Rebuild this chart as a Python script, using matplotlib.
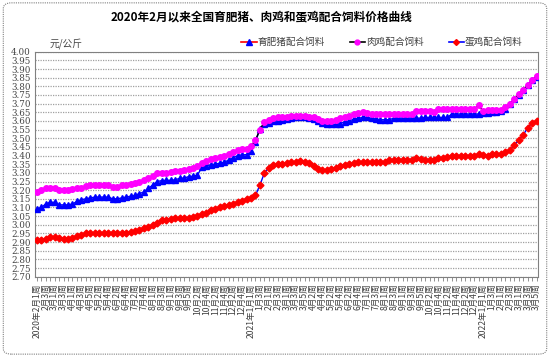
import numpy as np
import matplotlib
matplotlib.use("Agg")
from matplotlib import pyplot as plt
from matplotlib.lines import Line2D
from matplotlib.patches import FancyBboxPatch

plt.rcParams['font.family'] = ['Noto Sans CJK SC', 'DejaVu Sans']

# weeks per month, used to build the category labels
years = [2020, 2021, 2022]
month_weeks = {
    2020: [(2, 4), (3, 4), (4, 5), (5, 4), (6, 4), (7, 5), (8, 4), (9, 5), (10, 4), (11, 4), (12, 5)],
    2021: [(1, 4), (2, 4), (3, 5), (4, 4), (5, 4), (6, 5), (7, 4), (8, 4), (9, 5), (10, 4), (11, 4), (12, 5)],
    2022: [(1, 4), (2, 4), (3, 5)],
}

pig = [3.09, 3.10, 3.12, 3.13, 3.13, 3.115, 3.115, 3.115, 3.12, 3.135,
       3.145, 3.15, 3.155, 3.16, 3.16, 3.16, 3.16, 3.15, 3.15, 3.155,
       3.16, 3.165, 3.17, 3.18, 3.19, 3.21, 3.23, 3.25, 3.255, 3.257,
       3.257, 3.26, 3.268, 3.27, 3.278, 3.28, 3.287, 3.333, 3.342, 3.346,
       3.35, 3.356, 3.36, 3.375, 3.386, 3.40, 3.404, 3.405, 3.425, 3.48,
       3.553, 3.58, 3.59, 3.60, 3.60, 3.605, 3.61, 3.615, 3.62, 3.62,
       3.62, 3.615, 3.61, 3.60, 3.59, 3.58, 3.58, 3.58, 3.585, 3.595,
       3.60, 3.61, 3.615, 3.62, 3.62, 3.615, 3.61, 3.607, 3.607, 3.607,
       3.616, 3.616, 3.616, 3.616, 3.616, 3.616, 3.616, 3.62, 3.62, 3.62,
       3.62, 3.62, 3.62, 3.64, 3.64, 3.64, 3.64, 3.64, 3.64, 3.64,
       3.645, 3.645, 3.65, 3.65, 3.655, 3.67, 3.70, 3.725, 3.75, 3.78,
       3.81, 3.835, 3.855]

broiler = [3.19, 3.20, 3.21, 3.21, 3.21, 3.20, 3.20, 3.20, 3.205, 3.21,
           3.215, 3.223, 3.227, 3.23, 3.23, 3.23, 3.23, 3.22, 3.22, 3.227,
           3.23, 3.234, 3.24, 3.245, 3.257, 3.27, 3.28, 3.30, 3.30, 3.30,
           3.306, 3.31, 3.31, 3.315, 3.32, 3.33, 3.34, 3.356, 3.37, 3.38,
           3.386, 3.39, 3.40, 3.41, 3.42, 3.43, 3.437, 3.44, 3.455, 3.49,
           3.55, 3.594, 3.607, 3.617, 3.62, 3.62, 3.625, 3.63, 3.63, 3.63,
           3.63, 3.625, 3.62, 3.61, 3.60, 3.60, 3.60, 3.605, 3.615, 3.625,
           3.63, 3.64, 3.645, 3.65, 3.645, 3.64, 3.64, 3.64, 3.64, 3.64,
           3.64, 3.64, 3.64, 3.64, 3.64, 3.655, 3.655, 3.655, 3.655, 3.65,
           3.668, 3.668, 3.668, 3.668, 3.668, 3.668, 3.668, 3.668, 3.668, 3.69,
           3.655, 3.665, 3.665, 3.665, 3.665, 3.68, 3.70, 3.725, 3.755, 3.78,
           3.81, 3.835, 3.86]

layer = [2.91, 2.91, 2.92, 2.93, 2.93, 2.925, 2.92, 2.92, 2.925, 2.935,
         2.94, 2.953, 2.953, 2.953, 2.953, 2.953, 2.953, 2.953, 2.953, 2.953,
         2.953, 2.957, 2.963, 2.97, 2.98, 2.99, 3.00, 3.013, 3.026, 3.03,
         3.034, 3.038, 3.038, 3.042, 3.042, 3.046, 3.05, 3.06, 3.07, 3.084,
         3.09, 3.10, 3.107, 3.115, 3.122, 3.13, 3.14, 3.15, 3.157, 3.17,
         3.23, 3.30, 3.33, 3.344, 3.35, 3.35, 3.355, 3.36, 3.365, 3.37,
         3.365, 3.355, 3.34, 3.325, 3.315, 3.315, 3.32, 3.33, 3.34, 3.345,
         3.35, 3.355, 3.36, 3.36, 3.36, 3.36, 3.36, 3.36, 3.365, 3.377,
         3.377, 3.377, 3.377, 3.377, 3.377, 3.385, 3.38, 3.377, 3.377, 3.377,
         3.387, 3.387, 3.39, 3.40, 3.40, 3.40, 3.40, 3.40, 3.40, 3.41,
         3.405, 3.40, 3.41, 3.41, 3.41, 3.42, 3.43, 3.46, 3.49, 3.52,
         3.56, 3.59, 3.60]

names = ["育肥猪配合饲料", "肉鸡配合饲料", "蛋鸡配合饲料"]

labels = []
for y in years:
    first = True
    for m, n in month_weeks[y]:
        for w in range(1, n + 1):
            if first:
                labels.append("%d年%d月%d周" % (y, m, w))
                first = False
            else:
                labels.append("%d月%d周" % (m, w))

x = np.arange(len(pig))

fig = plt.figure(figsize=(5.5, 3.57), dpi=100)
fig.patches.append(FancyBboxPatch((0.006, 0.008), 0.988, 0.984, boxstyle="round,pad=0,rounding_size=0.015",
                                  transform=fig.transFigure, fill=False, ec="#808080", lw=0.8, ls=(0, (1, 1))))
ax = fig.add_axes([35 / 550, 1 - 276.7 / 357, 503 / 550, 225 / 357])

ax.plot(x, pig, color="blue", lw=1, marker="^", ms=4.5, mfc="blue", mec="blue", zorder=3)
ax.plot(x, broiler, color="black", lw=1, marker="o", ms=4, mfc="magenta", mec="magenta", zorder=3)
ax.plot(x, layer, color="blue", lw=1, marker="D", ms=3.5, mfc="red", mec="red", zorder=3)

ax.set_ylim(2.70, 4.00)
ax.set_xlim(-0.4, len(pig) - 0.7)
yt = np.round(np.arange(2.70, 4.001, 0.05), 2)
ax.set_yticks(yt)
ax.set_yticklabels(["%.2f" % v for v in yt], fontsize=6.3, color="#444444", family="DejaVu Serif")
ax.yaxis.grid(True, color="#a0a0a0", ls=(0, (1, 1)), lw=0.9)
ax.set_xticks(x)
ax.set_xticklabels([l if i % 2 == 0 else "" for i, l in enumerate(labels)],
                   rotation=90, fontsize=6.2, color="#404040", va="top")
ax.tick_params(axis="x", length=3, width=0.6, color="#808080", pad=2)
ax.tick_params(axis="y", length=0, pad=3)
for s in ax.spines.values():
    s.set_color("#808080")
    s.set_linestyle((0, (1, 1)))
    s.set_linewidth(0.8)

fig.text(261 / 550, 1 - 17 / 357, "2020年2月以来全国育肥猪、肉鸡和蛋鸡配合饲料价格曲线",
         ha="center", va="center", fontsize=8.4, fontweight="bold")
fig.text(50 / 550, 1 - 44 / 357, "元/公斤", ha="left", va="center", fontsize=7, color="#444444")

handles = [
    Line2D([], [], color="red", lw=1.2, marker="^", ms=4, mfc="blue", mec="blue"),
    Line2D([], [], color="black", lw=1.2, marker="o", ms=3.5, mfc="magenta", mec="magenta"),
    Line2D([], [], color="blue", lw=1.2, marker="D", ms=3, mfc="red", mec="red"),
]
fig.legend(handles, names, loc="center", bbox_to_anchor=(382 / 550, 1 - 42 / 357), ncol=3,
           frameon=False, fontsize=6.9, handlelength=1.6, handletextpad=0.1, columnspacing=2.6,
           labelcolor="#404040")

fig.savefig("out.png", dpi=100)
